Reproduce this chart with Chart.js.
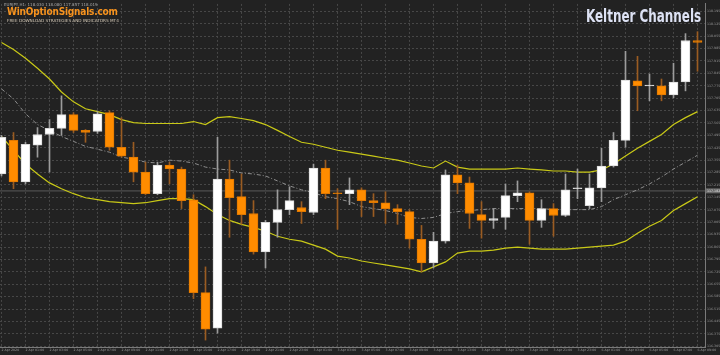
<!DOCTYPE html>
<html>
<head>
<meta charset="utf-8">
<script src="https://cdn.jsdelivr.net/npm/chart.js@4.4.1/dist/chart.umd.min.js"></script>
<style>
  body { margin: 0; background: #222222; }
  #wrap { position: relative; width: 720px; height: 355px; overflow: hidden; background: #222222; }
  #chart { position: absolute; left: 0; top: 0; }
  .txt { position: absolute; white-space: nowrap; font-family: "DejaVu Sans", sans-serif; }
  #hdr { left: 4px; top: 2px; font-size: 4px; color: #a8a8a8; }
  #brand { left: 7px; top: 6px; font-size: 10px; font-weight: bold; color: #f7931e; font-family: "DejaVu Sans Condensed", sans-serif; letter-spacing: -0.2px; }
  #sub { left: 7px; top: 18px; font-size: 4.2px; color: #d6cbb8; }
  #title { left: 586px; top: 6px; font-size: 17px; font-weight: bold; color: #dde2f4; font-family: "DejaVu Sans Condensed", sans-serif; transform-origin: left top; transform: scaleX(0.78); }
</style>
</head>
<body>
<div id="wrap">
  <canvas id="chart" width="720" height="355"></canvas>
  <div class="txt" id="hdr">EURJPY,H1 &nbsp;118.030 118.080 117.857 118.019</div>
  <div class="txt" id="brand">WinOptionSignals.com</div>
  <div class="txt" id="sub">FREE DOWNLOAD STRATEGIES AND INDICATORS MT4</div>
  <div class="txt" id="title">Keltner Channels</div>
</div>
<script>
// candles, one per hour
const opens  = [117.277,117.467,117.233,117.439,117.500,117.534,117.612,117.523,117.517,117.623,
                117.428,117.372,117.288,117.166,117.327,117.305,117.132,116.608,116.407,117.249,
                117.149,117.054,116.837,117.004,117.076,117.088,117.060,117.311,117.171,117.166,
                117.188,117.127,117.115,117.082,117.065,116.909,116.775,116.898,117.272,117.227,
                117.048,117.015,117.032,117.155,117.171,117.015,117.082,117.043,117.194,117.099,
                117.199,117.322,117.467,117.802,117.774,117.774,117.723,117.796,118.030];
const highs  = [117.495,117.511,117.456,117.539,117.584,117.718,117.623,117.528,117.629,117.634,
                117.595,117.456,117.344,117.344,117.344,117.316,117.160,116.753,117.484,117.355,
                117.277,117.127,117.015,117.188,117.205,117.121,117.333,117.355,117.194,117.255,
                117.199,117.166,117.177,117.104,117.076,116.987,116.948,117.300,117.327,117.260,
                117.121,117.082,117.221,117.238,117.177,117.132,117.110,117.277,117.305,117.277,
                117.422,117.511,117.969,117.941,117.841,117.813,117.902,118.069,118.080];
const lows   = [117.266,117.194,117.221,117.372,117.288,117.495,117.511,117.456,117.506,117.411,
                117.372,117.233,117.160,117.160,117.221,117.082,116.574,116.340,116.379,116.920,
                116.993,116.825,116.747,116.920,117.048,116.998,117.048,117.138,116.965,117.104,
                117.037,117.037,116.998,116.993,116.859,116.725,116.747,116.887,117.166,116.970,
                116.915,116.970,116.965,117.121,116.881,116.976,116.926,117.037,117.138,117.082,
                117.121,117.316,117.428,117.634,117.690,117.690,117.707,117.746,117.857];
const closes = [117.484,117.233,117.445,117.500,117.534,117.612,117.523,117.511,117.617,117.428,
                117.378,117.288,117.166,117.327,117.305,117.127,116.608,116.401,117.249,117.143,
                117.048,116.837,117.004,117.076,117.127,117.065,117.311,117.166,117.166,117.188,
                117.127,117.115,117.082,117.065,116.909,116.775,116.898,117.272,117.227,117.054,
                117.015,117.026,117.155,117.171,117.015,117.082,117.043,117.188,117.199,117.199,
                117.322,117.467,117.807,117.774,117.779,117.723,117.796,118.030,118.019];

// Keltner channel lines
const upperBand = [118.019,117.980,117.930,117.874,117.813,117.740,117.684,117.645,117.629,117.612,
                   117.584,117.567,117.562,117.562,117.562,117.562,117.573,117.556,117.595,117.601,
                   117.590,117.578,117.556,117.523,117.489,117.456,117.445,117.428,117.411,117.400,
                   117.389,117.378,117.366,117.355,117.339,117.322,117.311,117.350,117.316,117.305,
                   117.305,117.305,117.305,117.311,117.305,117.300,117.294,117.294,117.288,117.288,
                   117.300,117.333,117.378,117.422,117.461,117.500,117.556,117.595,117.629];
const middleLine = [117.757,117.701,117.617,117.556,117.523,117.489,117.461,117.433,117.417,117.400,
                    117.372,117.361,117.344,117.339,117.355,117.350,117.339,117.316,117.305,117.300,
                    117.283,117.277,117.266,117.238,117.210,117.188,117.171,117.149,117.138,117.121,
                    117.093,117.082,117.071,117.054,117.032,117.026,117.032,117.054,117.065,117.071,
                    117.076,117.082,117.082,117.082,117.082,117.082,117.076,117.076,117.076,117.076,
                    117.093,117.132,117.160,117.188,117.221,117.260,117.305,117.344,117.383];
const lowerBand = [117.489,117.411,117.333,117.277,117.227,117.194,117.166,117.143,117.132,117.121,
                   117.115,117.110,117.115,117.127,117.138,117.138,117.132,117.093,117.048,117.015,
                   116.993,116.976,116.954,116.926,116.909,116.898,116.876,116.853,116.814,116.803,
                   116.786,116.775,116.764,116.753,116.742,116.725,116.753,116.781,116.831,116.842,
                   116.842,116.848,116.859,116.864,116.859,116.853,116.853,116.853,116.859,116.864,
                   116.870,116.876,116.898,116.943,116.982,117.015,117.071,117.110,117.149];

const bidPrice = 117.182;

const xTickIdx = [0,2,4,6,8,10,12,14,16,18,20,22,24,26,28,30,32,34,36,38,40,42,44,46,48,50,52,54,56,58];
const xTickLabels = ["2 Apr 2020","2 Apr 01:00","2 Apr 03:00","2 Apr 05:00","2 Apr 07:00","2 Apr 09:00",
  "2 Apr 11:00","2 Apr 13:00","2 Apr 15:00","2 Apr 17:00","2 Apr 19:00","2 Apr 21:00","2 Apr 23:00",
  "3 Apr 01:00","3 Apr 03:00","3 Apr 05:00","3 Apr 07:00","3 Apr 09:00","3 Apr 11:00","3 Apr 13:00",
  "3 Apr 15:00","3 Apr 17:00","3 Apr 19:00","3 Apr 21:00","3 Apr 23:00","6 Apr 01:00","6 Apr 03:00",
  "6 Apr 05:00","6 Apr 07:00","6 Apr 09:00"];
const yTickLabels = [118.195,118.125,118.055,117.985,117.915,117.845,117.775,117.705,117.635,117.565,
  117.495,117.425,117.355,117.285,117.215,117.145,117.075,117.005,116.935,116.865,116.795,116.725,
  116.655,116.585,116.515,116.445,116.375,116.305];

const up = opens.map((o, i) => closes[i] >= o);
const bodyFill = up.map(u => u ? "#ffffff" : "#ff8c00");
const bodyEdge = up.map(u => u ? "#d8d8d8" : "#e07800");
const wickColor = up.map(u => u ? "#9c9c9c" : "#9a5c22");

function series(arr) {
  return arr.map((v, i) => ({ x: i, y: v }));
}

// price label box on the right axis
const bidBox = {
  id: "bidBox",
  afterDraw(chart) {
    const ctx = chart.ctx;
    const y = chart.scales.y.getPixelForValue(bidPrice);
    const x = chart.chartArea.right;
    ctx.save();
    ctx.fillStyle = "#6a6a6a";
    ctx.fillRect(x + 1, y - 2.5, 14, 5);
    ctx.fillStyle = "#e6e6e6";
    ctx.font = "3.2px 'DejaVu Sans'";
    ctx.textBaseline = "middle";
    ctx.fillText(bidPrice.toFixed(3), x + 2, y);
    ctx.restore();
  }
};

new Chart(document.getElementById("chart"), {
  data: {
    datasets: [
      {
        type: "line", data: series(upperBand), borderColor: "#c9c917", borderWidth: 1.2,
        pointRadius: 0, order: 5
      },
      {
        type: "line", data: series(lowerBand), borderColor: "#c9c917", borderWidth: 1.2,
        pointRadius: 0, order: 5
      },
      {
        type: "line", data: series(middleLine), borderColor: "#8e8e8e", borderWidth: 1,
        borderDash: [4, 2, 1, 2], pointRadius: 0, order: 5
      },
      {
        type: "line", data: [{ x: -1, y: bidPrice }, { x: 60, y: bidPrice }], borderColor: "#4e4e4e",
        borderWidth: 1.2, pointRadius: 0, order: 6
      },
      {
        type: "bar", data: lows.map((l, i) => ({ x: i, y: [l, highs[i]] })),
        backgroundColor: wickColor, barThickness: 1, grouped: false, order: 2
      },
      {
        type: "bar", data: opens.map((o, i) => ({ x: i, y: [o, closes[i]] })),
        backgroundColor: bodyFill, borderColor: bodyEdge, borderWidth: 1, borderSkipped: false,
        barThickness: 9, grouped: false, order: 1
      }
    ]
  },
  options: {
    responsive: false,
    animation: false,
    events: [],
    layout: { padding: 0 },
    plugins: { legend: { display: false }, tooltip: { enabled: false } },
    scales: {
      x: {
        type: "linear", min: -0.125, max: 58.625, position: "bottom", offset: false,
        afterBuildTicks: s => { s.ticks = xTickIdx.map(v => ({ value: v })); },
        afterFit: s => { s.height = 8; },
        grid: { color: "#474747", lineWidth: 1, drawTicks: false, offset: false },
        border: { display: true, color: "#7a7a7a", width: 1, dash: [2, 2] },
        ticks: {
          autoSkip: false, maxRotation: 0, minRotation: 0, align: "start", padding: 1.5,
          color: "#9a9a9a", font: { size: 3.2, family: "DejaVu Sans" },
          callback: v => xTickLabels[xTickIdx.indexOf(v)]
        }
      },
      y: {
        type: "linear", position: "right", min: 116.301, max: 118.2366,
        afterBuildTicks: s => { s.ticks = yTickLabels.map(v => ({ value: v })); },
        afterFit: s => { s.width = 15; },
        grid: { color: "#474747", lineWidth: 1, drawTicks: false },
        border: { display: true, color: "#7a7a7a", width: 1, dash: [2, 2] },
        ticks: {
          padding: 2, color: "#9a9a9a", font: { size: 3.2, family: "DejaVu Sans" },
          callback: v => v.toFixed(3)
        }
      }
    }
  },
  plugins: [bidBox]
});
</script>
</body>
</html>
